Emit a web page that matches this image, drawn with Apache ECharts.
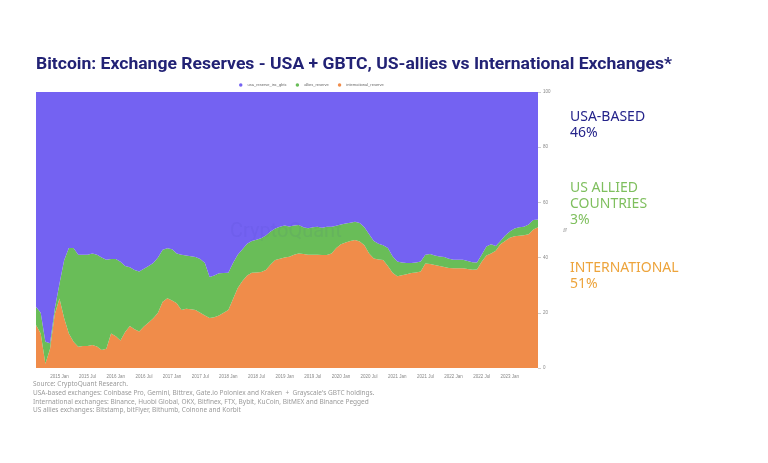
<!DOCTYPE html>
<html><head><meta charset="utf-8">
<script src="https://cdn.jsdelivr.net/npm/echarts@6/dist/echarts.min.js"></script>
<style>html,body{margin:0;padding:0;background:#fff}#c{width:768px;height:463px}</style>
</head><body><div id="c"></div>
<script>
const categories = [
"2014 Aug","2014 Sep","2014 Oct","2014 Nov","2014 Dec",
"2015 Jan","2015 Feb","2015 Mar","2015 Apr","2015 May","2015 Jun","2015 Jul","2015 Aug","2015 Sep","2015 Oct","2015 Nov","2015 Dec",
"2016 Jan","2016 Feb","2016 Mar","2016 Apr","2016 May","2016 Jun","2016 Jul","2016 Aug","2016 Sep","2016 Oct","2016 Nov","2016 Dec",
"2017 Jan","2017 Feb","2017 Mar","2017 Apr","2017 May","2017 Jun","2017 Jul","2017 Aug","2017 Sep","2017 Oct","2017 Nov","2017 Dec",
"2018 Jan","2018 Feb","2018 Mar","2018 Apr","2018 May","2018 Jun","2018 Jul","2018 Aug","2018 Sep","2018 Oct","2018 Nov","2018 Dec",
"2019 Jan","2019 Feb","2019 Mar","2019 Apr","2019 May","2019 Jun","2019 Jul","2019 Aug","2019 Sep","2019 Oct","2019 Nov","2019 Dec",
"2020 Jan","2020 Feb","2020 Mar","2020 Apr","2020 May","2020 Jun","2020 Jul","2020 Aug","2020 Sep","2020 Oct","2020 Nov","2020 Dec",
"2021 Jan","2021 Feb","2021 Mar","2021 Apr","2021 May","2021 Jun","2021 Jul","2021 Aug","2021 Sep","2021 Oct","2021 Nov","2021 Dec",
"2022 Jan","2022 Feb","2022 Mar","2022 Apr","2022 May","2022 Jun","2022 Jul","2022 Aug","2022 Sep","2022 Oct","2022 Nov","2022 Dec",
"2023 Jan","2023 Feb","2023 Mar","2023 Apr","2023 May","2023 Jun","2023 Jul"
];
const internationalReserve = [
15.6,12.5,1.5,7,19.5,25.2,18,12.5,9.5,7.7,8,8,8.3,7.8,6.5,7,12.5,11.5,10,13,
15.2,14,13.2,15,16.5,18,20,24,25.3,24.5,23.5,21,21.5,21.3,21,20,19,18.1,18.4,19,
20,21,25,29,31.5,33.5,34.5,34.6,34.8,35.5,37.5,39.1,39.6,40,40.3,41,41.5,41.3,41,41,
41,40.9,40.9,41.5,43.5,44.8,45.5,46,46.4,45.8,44.5,41.5,39.7,39.3,39.1,37,34.5,33.2,33.6,34,
34.4,34.6,35,37.9,37.7,37.3,37,36.6,36.2,36.1,36.1,36.1,35.9,35.6,35.7,38.5,40.8,41.5,42.5,44.8,
46,47.2,47.7,47.9,48.1,48.5,50.2,51
];
const alliesReserve = [
6.6,7.5,8,2,2,5.3,21,31,34,33.3,33,33,33.2,33.2,33.5,32.2,27,28,28.5,24,
21.3,21.5,21.8,21,20.5,20,20,18.8,18.1,18.5,18,20,19.3,19.2,19.2,19.5,19,14.9,15.1,15.3,
14.4,13.5,13,12,11.5,11.5,11.5,11.9,12.2,12.5,12,11.4,11.6,11.6,11,10.6,10.3,9.7,9.6,10,
10.2,9.9,10.3,9.7,8,7.2,6.9,6.6,6.6,6.7,6.5,7,6.3,5.7,5.4,6.5,6,5.4,4.6,4,
3.6,3.6,3.6,3.1,3.6,3.5,3.4,3.6,3.4,3.1,3.1,3.1,2.9,2.7,2.5,2.5,3.2,3.3,1.7,1.2,
2,2.3,2.8,3.1,3.1,3.5,3.4,2.8
];
const usaReserveIncGbtc = [
77.8,80,90.5,91,78.5,69.5,61,56.5,56.5,59,59,59,58.5,59,60,60.8,60.5,60.5,61.5,63,
63.5,64.5,65,64,63,62,60,57.2,56.6,57,58.5,59,59.2,59.5,59.8,60.5,62,67,66.5,65.7,
65.6,65.5,62,59,57,55,54,53.5,53,52,50.5,49.5,48.8,48.4,48.7,48.4,48.2,49,49.4,49,
48.8,49.2,48.8,48.8,48.5,48,47.6,47.4,47,47.5,49,51.5,54,55,55.5,56.5,59.5,61.4,61.8,62,
62,61.8,61.4,59,58.7,59.2,59.6,59.8,60.4,60.8,60.8,60.8,61.2,61.7,61.8,59,56,55.2,55.8,54,
52,50.5,49.5,49,48.8,48,46.4,46.2
];
const seriesNames = ["usa_reserve_inc_gbtc","allies_reserve","international_reserve"];
const titleText = 'Bitcoin: Exchange Reserves - USA + GBTC, US-allies vs International Exchanges*';
const footnotes = [
"Source: CryptoQuant Research.",
"USA-based exchanges: Coinbase Pro, Gemini, Bittrex, Gate.io Poloniex and Kraken  +  Grayscale's GBTC holdings.",
"International exchanges: Binance, Huobi Global, OKX, Bitfinex, FTX, Bybit, KuCoin, BitMEX and Binance Pegged",
"US allies exchanges: Bitstamp, bitFlyer, Bithumb, Coinone and Korbit"
];

const C_USA = '#7462f2', C_ALLY = '#69bd58', C_INT = '#f08c4a';
const TITLE_FONT = 'bold 17px Roboto';
const mc = document.createElement('canvas').getContext('2d');
mc.font = TITLE_FONT;
const titleScale = 636 / mc.measureText(titleText).width;

const chart = echarts.init(document.getElementById('c'), null, {renderer:'canvas'});
function area(name, data, color){
  return {name, type:'line', stack:'total', data, symbol:'none', smooth:false,
    lineStyle:{width:0}, areaStyle:{color, opacity:1}, itemStyle:{color}};
}
chart.setOption({
  animation:false,
  backgroundColor:'#fff',
  legend:{data:seriesNames, top:78, left:234, icon:'circle', itemWidth:3.5, itemHeight:3.5, itemGap:9,
    textStyle:{fontSize:4, color:'#666'}},
  grid:{left:36, right:230, top:92, bottom:95},
  xAxis:{type:'category', data:categories, boundaryGap:false,
    axisLine:{show:false}, axisTick:{show:false},
    axisLabel:{fontSize:4.5, color:'#888', margin:6,
      interval:function(i, v){ return i < categories.length - 1 && /Jan$|Jul$/.test(v); }}},
  yAxis:{type:'value', position:'right', min:0, max:100, interval:20,
    name:'%', nameLocation:'middle', nameGap:14, nameRotate:-90, nameTextStyle:{fontSize:5, color:'#888'},
    axisLine:{show:false}, axisTick:{show:true, length:3, lineStyle:{color:'#ccc'}},
    splitLine:{show:false}, axisLabel:{fontSize:4.5, color:'#888', margin:5}},
  series:[
    area('international_reserve', internationalReserve, C_INT),
    area('allies_reserve', alliesReserve, C_ALLY),
    area('usa_reserve_inc_gbtc', usaReserveIncGbtc, C_USA)
  ],
  graphic:[
    {type:'text', x:36, y:65, scaleX:titleScale, scaleY:1, style:{text:titleText, font:TITLE_FONT, fill:'#222275', verticalAlign:'middle'}},
    {type:'text', left:230, top:222, z:100, style:{text:'CryptoQuant', font:'20px Roboto', fill:'rgba(60,50,170,0.07)'}},
    {type:'text', left:570, top:109, style:{text:'USA-BASED\n46%', font:'14px "Noto Sans"', fill:'#24238a', lineHeight:16}},
    {type:'text', left:570, top:180, style:{text:'US ALLIED\nCOUNTRIES\n3%', font:'14px "Noto Sans"', fill:'#7fbf5e', lineHeight:16}},
    {type:'text', left:570, top:260, style:{text:'INTERNATIONAL\n51%', font:'14px "Noto Sans"', fill:'#eda43c', lineHeight:16}},
    {type:'text', left:33, top:380, style:{text:footnotes.join('\n'), font:'6.5px "Noto Sans"', fill:'#9a9a9a', lineHeight:8.7}}
  ]
});
</script></body></html>
